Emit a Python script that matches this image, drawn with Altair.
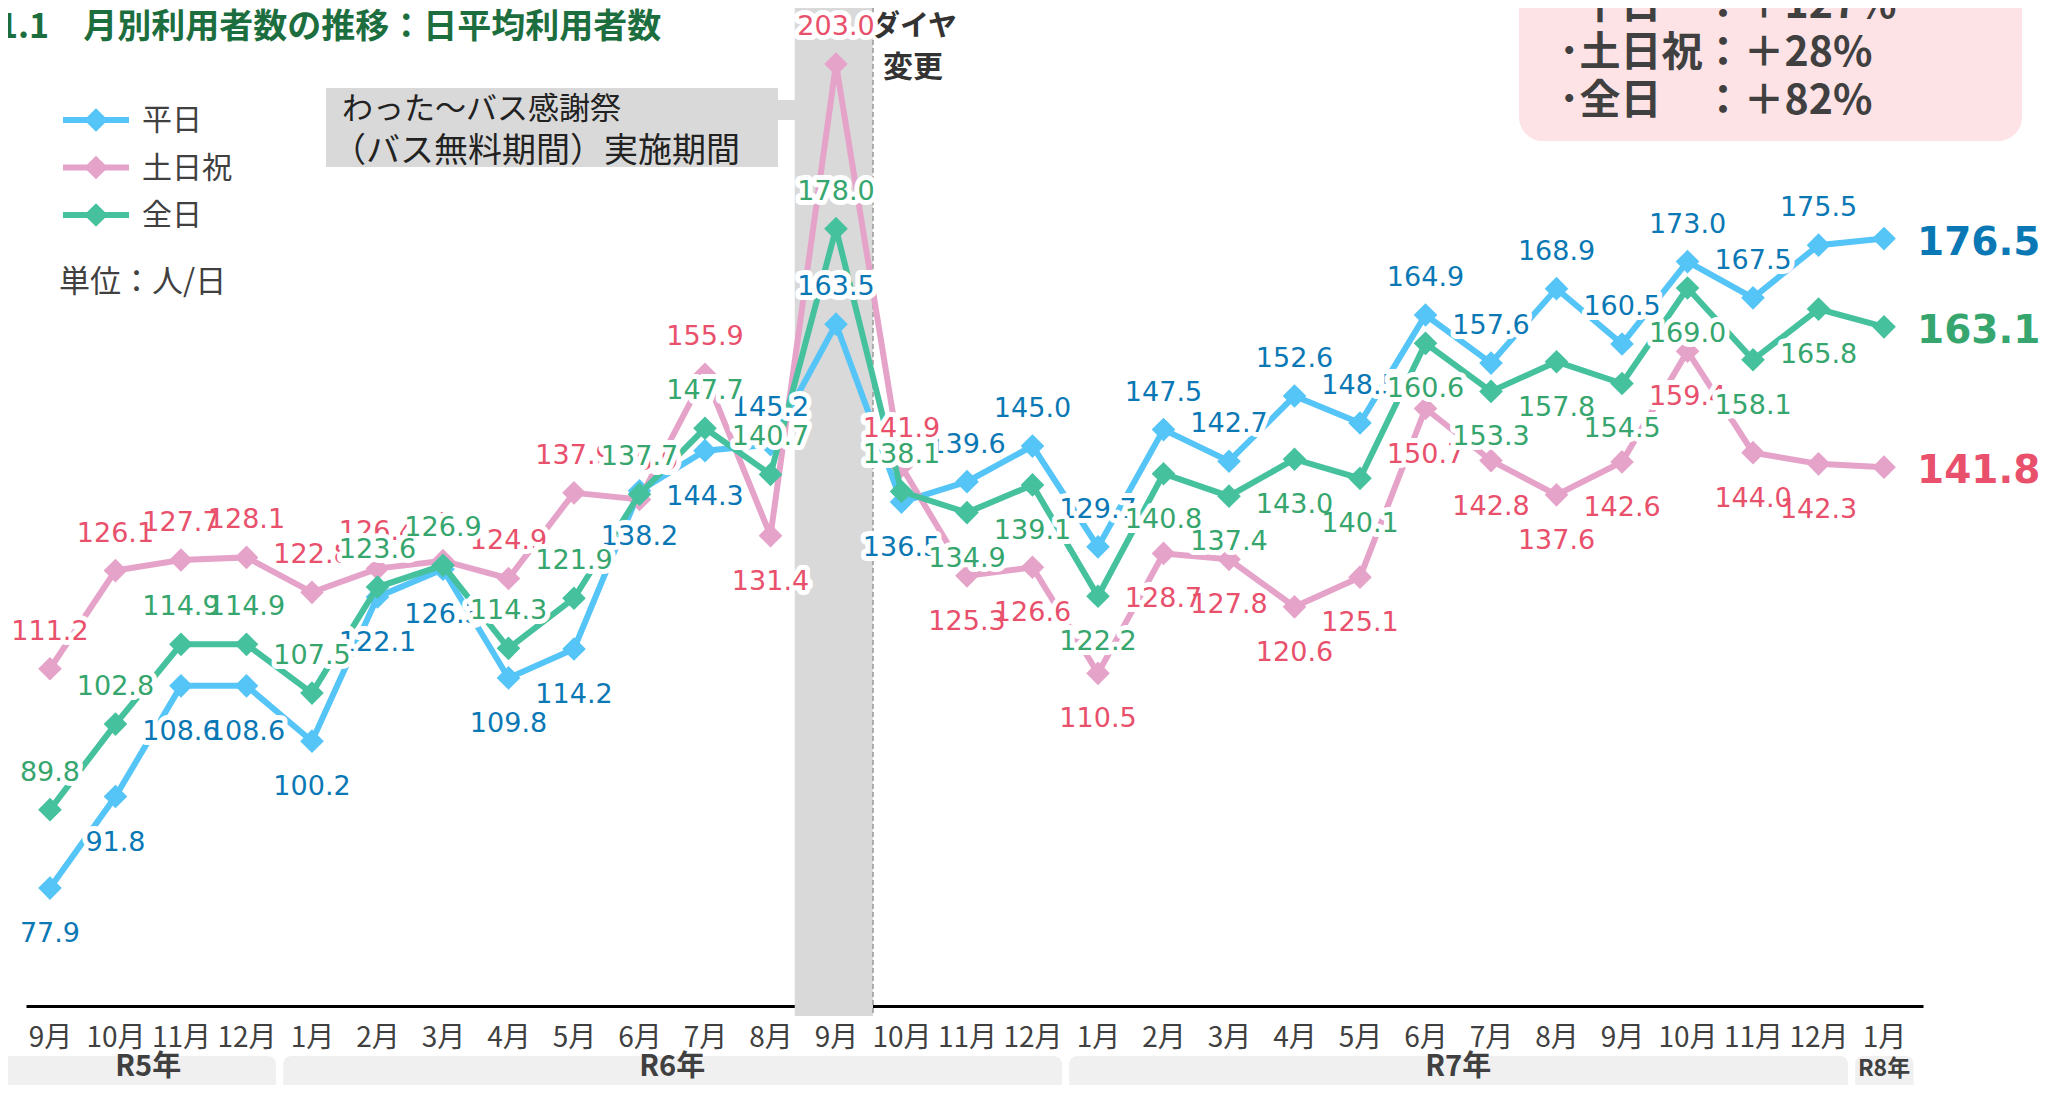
import altair as alt
import pandas as pd

# ---------------- data ----------------
months = ["9月", "10月", "11月", "12月",
          "1月", "2月", "3月", "4月", "5月", "6月", "7月", "8月", "9月", "10月", "11月", "12月",
          "1月", "2月", "3月", "4月", "5月", "6月", "7月", "8月", "9月", "10月", "11月", "12月",
          "1月"]
weekday = [77.9, 91.8, 108.6, 108.6, 100.2, 122.1, 126.3, 109.8, 114.2, 138.2, 144.3, 145.2,
           163.5, 136.5, 139.6, 145.0, 129.7, 147.5, 142.7, 152.6, 148.5, 164.9, 157.6, 168.9,
           160.5, 173.0, 167.5, 175.5, 176.5]
holiday = [111.2, 126.1, 127.7, 128.1, 122.8, 126.4, 127.6, 124.9, 137.9, 136.9, 155.9, 131.4,
           203.0, 141.9, 125.3, 126.6, 110.5, 128.7, 127.8, 120.6, 125.1, 150.7, 142.8, 137.6,
           142.6, 159.4, 144.0, 142.3, 141.8]
allday = [89.8, 102.8, 114.9, 114.9, 107.5, 123.6, 126.9, 114.3, 121.9, 137.7, 147.7, 140.7,
          178.0, 138.1, 134.9, 139.1, 122.2, 140.8, 137.4, 143.0, 140.1, 160.6, 153.3, 157.8,
          154.5, 169.0, 158.1, 165.8, 163.1]
series_names = ["平日", "土日祝", "全日"]

years = ["R5年", "R6年", "R7年", "R8年"]
year_first = [0, 4, 16, 28]
year_last = [3, 15, 27, 28]

free_period_idx = [12]
summary_lines = ["･平日　：＋127%", "･土日祝：＋28%", "･全日　：＋82%"]

# label placement (a = above, b = below) -- styling, not data
weekday_pos = list("bbbbbbbbbbb" + "aa" + "b" + "aaaaaaaaaaaaaa")
holiday_pos = list("aaaaaaaaaaa" + "b" + "aa" + "bbbbbbbbbbbbbb")
allday_pos = list("aaaaaaaaaaaaaa" + "bbbbbbbbbbbbbb")

line_colors = ["#55c4f7", "#e6a3c9", "#45c19e"]
label_colors = ["#0a78b4", "#e8506c", "#36a66e"]

CJK = "Noto Sans CJK JP"
NUM = "DejaVu Sans"

# ---------------- scales ----------------
month_expr = "[" + ",".join("'" + m + "'" for m in months) + "][datum.value]"
xs = alt.Scale(domain=[-0.366, 28.595], nice=False, zero=False)
ys = alt.Scale(domain=[60, 211.5], nice=False, zero=False)
xaxis = alt.Axis(values=list(range(len(months))), labelExpr=month_expr, title=None,
                 ticks=False, grid=False, domainColor="#000000", domainWidth=3,
                 labelFont=CJK, labelFontSize=28, labelColor="#404040", labelPadding=18,
                 labelOverlap=False, labelFlush=False, labelBound=False)

dummy = pd.DataFrame({"k": [0]})
layers = []

# year bands
ydf = pd.DataFrame({"year": years, "first": year_first, "last": year_last})
ybase = alt.Chart(ydf).transform_calculate(
    x0="datum.first == 0 ? -0.8 : datum.first - 0.44",
    x1="datum.last + 0.45",
    xc="(datum.first + datum.last) / 2",
)
layers.append(ybase.mark_rect(color="#f0f0f0", cornerRadius=8).encode(
    x=alt.X("x0:Q", scale=xs, axis=xaxis), x2="x1:Q",
    y=alt.value(1048), y2=alt.value(1110)))
layers.append(ybase.transform_filter(alt.datum.year != "R8年").mark_text(
    font=CJK, fontSize=29, fontWeight="bold", color="#404040", baseline="middle").encode(
    x=alt.X("xc:Q", scale=xs, axis=xaxis), y=alt.value(1059), text="year:N"))
layers.append(ybase.transform_filter(alt.datum.year == "R8年").mark_text(
    font=CJK, fontSize=23, fontWeight="bold", color="#404040", baseline="middle").encode(
    x=alt.X("xc:Q", scale=xs, axis=xaxis), y=alt.value(1061), text="year:N"))

# free-period band and timetable-change line
bdf = pd.DataFrame({"idx": free_period_idx})
bbase = alt.Chart(bdf).transform_calculate(b0="datum.idx - 0.63", b1="datum.idx + 0.565")
layers.append(bbase.mark_rect(color="#d9d9d9").encode(
    x=alt.X("b0:Q", scale=xs, axis=xaxis), x2="b1:Q", y=alt.value(-8), y2=alt.value(1008)))
layers.append(bbase.mark_rule(color="#9a9a9a", strokeWidth=1.5, strokeDash=[5, 3]).encode(
    x=alt.X("b1:Q", scale=xs, axis=xaxis), y=alt.value(-8), y2=alt.value(1008)))
layers.append(alt.Chart(dummy).mark_text(text="ダイヤ", font=CJK, fontSize=29, fontWeight="bold",
                                         color="#333333", align="center", baseline="middle").encode(
    x=alt.value(888), y=alt.value(19)))
layers.append(alt.Chart(dummy).mark_text(text="変更", font=CJK, fontSize=30, fontWeight="bold",
                                         color="#333333", align="center", baseline="middle").encode(
    x=alt.value(887), y=alt.value(60)))

# callout box
layers.append(alt.Chart(dummy).mark_rect(color="#d9d9d9").encode(
    x=alt.value(300), x2=alt.value(752), y=alt.value(80), y2=alt.value(159)))
layers.append(alt.Chart(dummy).mark_rect(color="#d9d9d9").encode(
    x=alt.value(750), x2=alt.value(770), y=alt.value(92), y2=alt.value(112)))
layers.append(alt.Chart(dummy).mark_text(text="わった～バス感謝祭", font=CJK, fontSize=31,
                                         color="#222222", align="left", baseline="middle").encode(
    x=alt.value(316), y=alt.value(102)))
layers.append(alt.Chart(dummy).mark_text(text="（バス無料期間）実施期間", font=CJK, fontSize=34,
                                         color="#222222", align="left", baseline="middle").encode(
    x=alt.value(306), y=alt.value(144)))

# summary box (top right, partly cut)
layers.append(alt.Chart(dummy).mark_rect(color="#fde3e5", cornerRadius=24).encode(
    x=alt.value(1493), x2=alt.value(1996), y=alt.value(-40), y2=alt.value(133)))
for i, line in enumerate(summary_lines):
    layers.append(alt.Chart(dummy).mark_text(text=line, font=CJK, fontSize=41, fontWeight="bold",
                                             color="#404040", align="left", baseline="middle").encode(
        x=alt.value(1533), y=alt.value(-2 + 48 * i)))

# title
layers.append(alt.Chart(dummy).mark_text(text="1.1　月別利用者数の推移：日平均利用者数", font=CJK,
                                         fontSize=34, fontWeight="bold", color="#1d6e3e",
                                         align="left", baseline="middle").encode(
    x=alt.value(-28), y=alt.value(20)))

# legend
for i, name in enumerate(series_names):
    ly = 112 + 47.5 * i
    layers.append(alt.Chart(dummy).mark_rule(color=line_colors[i], strokeWidth=6).encode(
        x=alt.value(37), x2=alt.value(103), y=alt.value(ly)))
    layers.append(alt.Chart(dummy).mark_point(shape="diamond", filled=True, size=560, opacity=1,
                                              color=line_colors[i]).encode(
        x=alt.value(70), y=alt.value(ly)))
    layers.append(alt.Chart(dummy).mark_text(text=name, font=CJK, fontSize=30, color="#404040",
                                             align="left", baseline="middle").encode(
        x=alt.value(116), y=alt.value(ly + 1)))
layers.append(alt.Chart(dummy).mark_text(text="単位：人/日", font=CJK, fontSize=31, color="#404040",
                                         align="left", baseline="middle").encode(
    x=alt.value(33), y=alt.value(275)))

# series
all_vals = [weekday, holiday, allday]
all_pos = [weekday_pos, holiday_pos, allday_pos]
frames = []
for s in range(3):
    frames.append(pd.DataFrame({"idx": list(range(len(months))), "value": all_vals[s],
                                "pos": all_pos[s] + ["end"]}))

X = alt.X("idx:Q", scale=xs, axis=xaxis)
Y = alt.Y("value:Q", scale=ys, axis=None)

for s in range(3):
    layers.append(alt.Chart(frames[s]).mark_line(color=line_colors[s], strokeWidth=6).encode(x=X, y=Y))
    layers.append(alt.Chart(frames[s]).mark_point(shape="diamond", filled=True, size=560, opacity=1,
                                                  color=line_colors[s]).encode(x=X, y=Y))

for s in range(3):
    for p, dy in (("a", -37), ("b", 46)):
        base = alt.Chart(frames[s]).transform_filter(alt.datum.pos == p)
        layers.append(base.mark_text(font=NUM, fontSize=27, color="white", stroke="white",
                                     strokeWidth=10, strokeJoin="round", dy=dy,
                                     baseline="middle").encode(
            x=X, y=Y, text=alt.Text("value:Q", format=".1f")))
        layers.append(base.mark_text(font=NUM, fontSize=27, color=label_colors[s], dy=dy,
                                     baseline="middle").encode(
            x=X, y=Y, text=alt.Text("value:Q", format=".1f")))
    layers.append(alt.Chart(frames[s]).transform_filter(alt.datum.pos == "end").mark_text(
        font=NUM, fontSize=39, fontWeight="bold", color=label_colors[s], align="left", dx=33, dy=4,
        baseline="middle").encode(x=X, y=Y, text=alt.Text("value:Q", format=".1f")))

chart = alt.layer(*layers).properties(
    width=1897, height=998,
    padding={"left": 18, "top": 0, "right": 131, "bottom": 79},
    autosize=alt.AutoSizeParams(type="none"),
).configure_view(stroke=None)

chart.save("out.html", embed_options={"renderer": "svg", "actions": False})
